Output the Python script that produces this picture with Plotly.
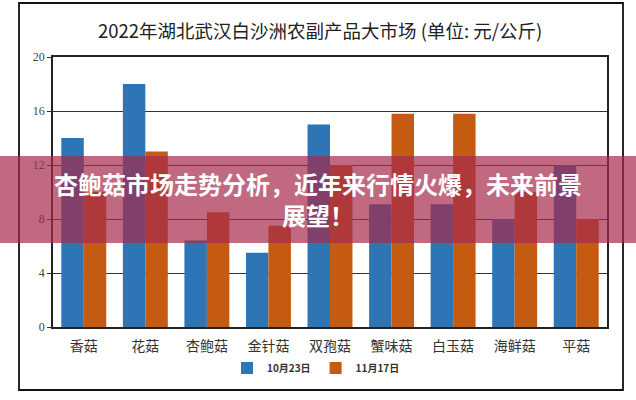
import plotly.graph_objects as go

categories = ["香菇", "花菇", "杏鲍菇", "金针菇", "双孢菇", "蟹味菇", "白玉菇", "海鲜菇", "平菇"]
series_names = ["10月23日", "11月17日"]
oct23 = [14, 18, 6.4, 5.5, 15, 9.1, 9.1, 8, 12]
nov17 = [10, 13, 8.5, 7.5, 12, 15.8, 15.8, 10, 8]
y_ticks = [0, 4, 8, 12, 16, 20]
title_text = "2022年湖北武汉白沙洲农副产品大市场 (单位: 元/公斤)"
banner_lines = ["杏鲍菇市场走势分析，近年来行情火爆，未来前景", "展望！"]

W, H = 636, 400
colors = ["#2E75B6", "#C55A11"]

fig = go.Figure()
for name, vals, c in zip(series_names, [oct23, nov17], colors):
    fig.add_trace(go.Bar(x=categories, y=vals, name="<b>" + name + "</b>",
                         marker=dict(color=c, line=dict(width=0))))

def px(x):
    return x / W

def py(y):
    return 1 - y / H

fig.update_layout(
    width=W, height=H,
    margin=dict(l=0, r=0, t=0, b=0, pad=0, autoexpand=False),
    paper_bgcolor="white", plot_bgcolor="white",
    barmode="group", bargap=0.27, bargroupgap=0,
    showlegend=True,
    legend=dict(orientation="h", x=px(316), xanchor="center", y=py(368), yanchor="middle",
                font=dict(family="Noto Sans CJK SC", size=10, color="#333"),
                itemwidth=30, bgcolor="rgba(0,0,0,0)", traceorder="normal"),
    xaxis=dict(domain=[px(53), px(607)], showgrid=False, zeroline=False, automargin=False,
               showline=True, linecolor="#222", linewidth=1.5, mirror=True,
               ticks="", ticklabelstandoff=5,
               tickfont=dict(family="Liberation Serif, Noto Sans CJK SC", size=14, color="#333")),
    yaxis=dict(domain=[py(327), py(57)], range=[0, 20], tickvals=y_ticks, automargin=False,
               showgrid=True, gridcolor="#333", gridwidth=1, zeroline=False,
               showline=True, linecolor="#222", linewidth=1.5, mirror=True,
               ticks="outside", ticklen=4, tickcolor="#333",
               tickfont=dict(family="Liberation Serif", size=12, color="#444")),
    font=dict(family="Noto Sans CJK SC"),
)

# outer frame
fig.add_shape(type="rect", xref="paper", yref="paper",
              x0=px(19), x1=px(623), y0=py(390), y1=py(3),
              line=dict(color="#111", width=1.8), fillcolor="rgba(0,0,0,0)", layer="below")

# title
fig.add_annotation(text=title_text, xref="paper", yref="paper", x=px(320), y=py(30),
                   showarrow=False, xanchor="center", yanchor="middle",
                   font=dict(family="Noto Sans CJK SC", size=18.5, color="#222"))

# banner overlay
fig.add_shape(type="rect", xref="paper", yref="paper",
              x0=0, x1=1, y0=py(243), y1=py(156),
              line=dict(width=0), fillcolor="rgba(165,42,76,0.7)", layer="above")
fig.add_annotation(text="<br>".join("<b>" + s + "</b>" for s in banner_lines),
                   xref="paper", yref="paper", x=0.5, y=py(199),
                   showarrow=False, xanchor="center", yanchor="middle", align="center",
                   font=dict(family="Noto Sans CJK SC", size=24, color="white"))

fig.write_html("out.html", config={"displayModeBar": False},
               post_script="document.body.style.margin='0';document.body.style.overflow='hidden';")
